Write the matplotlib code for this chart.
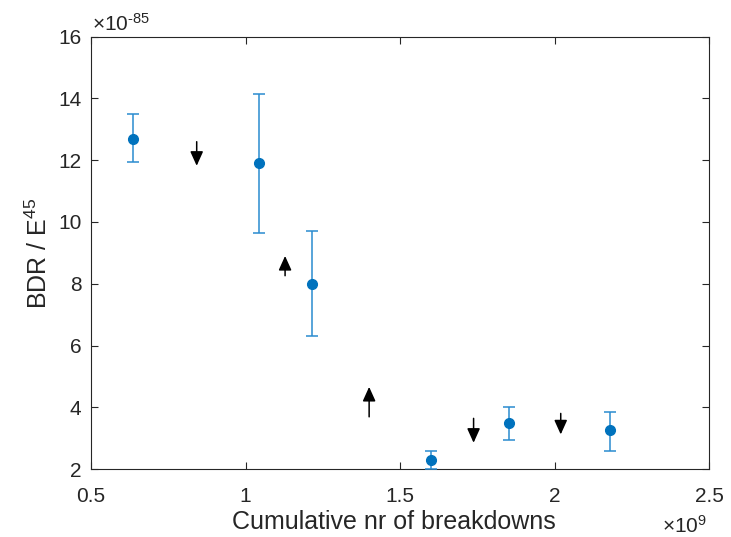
import matplotlib.pyplot as plt
from matplotlib.ticker import FuncFormatter

# cumulative breakdowns and normalised BDR per measurement block
cum_bd = [0.637e9, 1.044e9, 1.215e9, 1.600e9, 1.852e9, 2.180e9]
bdr = [12.70e-85, 11.90e-85, 8.00e-85, 2.29e-85, 3.48e-85, 3.25e-85]
err_hi = [13.51e-85, 14.16e-85, 9.72e-85, 2.59e-85, 4.02e-85, 3.85e-85]
err_lo = [11.94e-85, 9.65e-85, 6.31e-85, 2.00e-85, 2.94e-85, 2.59e-85]

# trend arrows between blocks: x, tail y, tip y
arrow_x = [0.842e9, 1.128e9, 1.400e9, 1.738e9, 2.020e9]
arrow_tail = [12.60e-85, 8.26e-85, 3.69e-85, 3.64e-85, 3.80e-85]
arrow_tip = [11.82e-85, 8.90e-85, 4.66e-85, 2.85e-85, 3.12e-85]

x_ticks = [0.5e9, 1e9, 1.5e9, 2e9, 2.5e9]
y_ticks = [v * 1e-85 for v in range(2, 17, 2)]
x_scale = 1e9
y_scale = 1e-85

plt.rcParams['font.family'] = ['Liberation Sans', 'DejaVu Sans']
plt.rcParams['mathtext.fontset'] = 'custom'
plt.rcParams['mathtext.rm'] = 'Liberation Sans'
plt.rcParams['mathtext.it'] = 'Liberation Sans'

dark = '#262626'
blue = '#0072BD'

fig = plt.figure(figsize=(7.31, 5.37), dpi=100)
ax = fig.add_axes([0.1245, 0.1266, 0.8455, 0.805])

yerr = [[b - lo for b, lo in zip(bdr, err_lo)], [hi - b for b, hi in zip(bdr, err_hi)]]
ax.errorbar(cum_bd, bdr, yerr=yerr, fmt='o', color=blue, ecolor='#2a8bd0',
            markersize=7, elinewidth=1.1, capsize=4, capthick=1.1, zorder=3)

for x, y0, y1 in zip(arrow_x, arrow_tail, arrow_tip):
    ax.annotate('', xy=(x, y1), xytext=(x, y0),
                arrowprops=dict(arrowstyle='-|>,head_length=0.62,head_width=0.28',
                                color='k', lw=1.1, shrinkA=0, shrinkB=0,
                                mutation_scale=14))

ax.set_xlim(0.5e9, 2.5e9)
ax.set_ylim(2e-85, 16e-85)
ax.set_xticks(x_ticks)
ax.set_yticks(y_ticks)
ax.xaxis.set_major_formatter(FuncFormatter(lambda v, p: f'{v / x_scale:g}'))
ax.yaxis.set_major_formatter(FuncFormatter(lambda v, p: f'{round(v / y_scale, 6):g}'))

ax.tick_params(direction='in', length=5, width=0.8, top=True, right=True,
               labelsize=15, colors=dark)
ax.tick_params(axis='x', pad=13)
ax.tick_params(axis='y', pad=7)
for s in ax.spines.values():
    s.set_color(dark)
    s.set_linewidth(0.8)

# exponent labels, MATLAB style
fig.text(92 / 731, 1 - 31 / 537, r'$\times$10$^{\text{-85}}$',
         ha='left', va='baseline', fontsize=15, color=dark)
fig.text(707 / 731, 1 - 533 / 537, r'$\times$10$^{9}$',
         ha='right', va='baseline', fontsize=15, color=dark)

ax.set_xlabel('Cumulative nr of breakdowns', fontsize=18, color=dark, labelpad=2)
ax.xaxis.set_label_coords(0.49, -0.095)
ax.set_ylabel('BDR / E$^{45}$', fontsize=18, color=dark, labelpad=4)

fig.savefig('out.png', dpi=100)
